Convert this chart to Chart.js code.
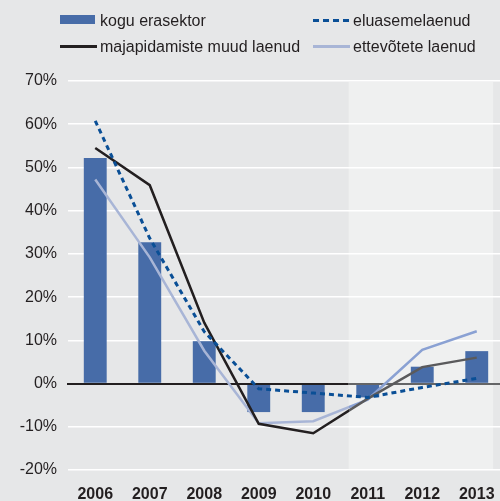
<!DOCTYPE html>
<html>
<head>
<meta charset="utf-8">
<script src="https://cdn.jsdelivr.net/npm/chart.js@4"></script>
<style>
    html, body { margin: 0; padding: 0; overflow: hidden; background: #e6e7e8; }
    #wrap { position: relative; width: 504px; height: 501px; }
    .lg { position: absolute; font: 16px "Liberation Sans", Arial, sans-serif; color: #231f20; line-height: 18px; white-space: nowrap; }
    .sw { position: absolute; }
</style>
</head>
<body>
<div id="wrap">
    <canvas id="growthChart"></canvas>
</div>
<script>
const years = ['2006', '2007', '2008', '2009', '2010', '2011', '2012', '2013'];
const seriesLabels = ['kogu erasektor', 'eluasemelaenud', 'majapidamiste muud laenud', 'ettevõtete laenud'];
const koguErasektor = [52.2, 32.7, 9.8, -6.6, -6.6, -3.2, 3.9, 7.5];
const eluasemelaenud = [60.8, 33.6, 12.0, -1.2, -2.2, -3.2, -0.9, 1.2];
const majapidamisteMuud = [54.5, 45.9, 14.1, -9.3, -11.5, -3.5, 3.8, 6.0];
const ettevoteteLaenud = [47.2, 29.2, 7.6, -9.2, -8.7, -3.7, 7.8, 12.1];
const yTicks = [-20, -10, 0, 10, 20, 30, 40, 50, 60, 70];
const forecastFrom = 5; // 2011 onwards shaded

const fontFamily = '"Liberation Sans", Arial, sans-serif';

function shadeBounds(chart) {
    const x = chart.scales.x;
    const step = x.getPixelForValue(1) - x.getPixelForValue(0);
    return {
        left: x.getPixelForValue(forecastFrom) - 0.35 * step,
        right: x.getPixelForValue(years.length - 1) + 0.3 * step
    };
}

function splitColor(before, after) {
    return function (context) {
        const chart = context.chart;
        const area = chart.chartArea;
        if (!area || !chart.scales.x) return before;
        const cut = shadeBounds(chart).left;
        const f = Math.min(Math.max((cut - area.left) / (area.right - area.left), 0), 1);
        const g = chart.ctx.createLinearGradient(area.left, 0, area.right, 0);
        g.addColorStop(0, before);
        g.addColorStop(f, before);
        g.addColorStop(f, after);
        g.addColorStop(1, after);
        return g;
    };
}

const shadePlugin = {
    id: 'shade',
    beforeDraw(chart) {
        const area = chart.chartArea;
        const b = shadeBounds(chart);
        const ctx = chart.ctx;
        ctx.save();
        ctx.fillStyle = '#eff0f0';
        ctx.fillRect(b.left, area.top + 1, b.right - b.left, area.bottom - area.top - 2);
        ctx.restore();
    },
    afterDatasetDraw(chart, args) {
        if (args.meta.type !== 'bar') return;
        const area = chart.chartArea;
        const y = Math.round(chart.scales.y.getPixelForValue(0));
        const cut = shadeBounds(chart).left;
        const ctx = chart.ctx;
        ctx.save();
        ctx.lineWidth = 2;
        ctx.strokeStyle = '#231f20';
        ctx.beginPath();
        ctx.moveTo(area.left - 1, y);
        ctx.lineTo(cut, y);
        ctx.stroke();
        ctx.strokeStyle = '#646567';
        ctx.beginPath();
        ctx.moveTo(cut, y);
        ctx.lineTo(area.right, y);
        ctx.stroke();
        ctx.restore();
    }
};

const ctx = document.getElementById('growthChart').getContext('2d');

let growthChart = new Chart(ctx, {
    type: 'bar',
    data: {
        labels: years,
        datasets: [
            {
                label: seriesLabels[0],
                data: koguErasektor,
                backgroundColor: '#476ca8',
                categoryPercentage: 1,
                barPercentage: 0.42,
                order: 10
            },
            {
                type: 'line',
                label: seriesLabels[3],
                data: ettevoteteLaenud,
                borderColor: splitColor('#a8b5d6', '#8aa1d3'),
                borderWidth: 2.5,
                pointRadius: 0,
                tension: 0,
                order: 3
            },
            {
                type: 'line',
                label: seriesLabels[2],
                data: majapidamisteMuud,
                borderColor: splitColor('#231f20', '#5a5a5c'),
                borderWidth: 2.5,
                pointRadius: 0,
                tension: 0,
                order: 2
            },
            {
                type: 'line',
                label: seriesLabels[1],
                data: eluasemelaenud,
                borderColor: '#0a4f96',
                borderWidth: 3,
                borderDash: [5, 4],
                pointRadius: 0,
                tension: 0,
                order: 1
            }
        ]
    },
    options: {
        responsive: true,
        maintainAspectRatio: false,
        animation: false,
        layout: { padding: { top: 81, left: 0, right: 0, bottom: 0 } },
        plugins: {
            legend: { display: false },
            tooltip: { enabled: false }
        },
        scales: {
            x: {
                grid: { display: false },
                border: { display: false },
                ticks: {
                    color: '#231f20',
                    padding: 7,
                    maxRotation: 0,
                    font: { family: fontFamily, size: 16, weight: 'bold' }
                },
                afterFit(scale) { scale.height = 31; }
            },
            y: {
                min: yTicks[0],
                max: yTicks[yTicks.length - 1],
                afterBuildTicks(scale) { scale.ticks = yTicks.map(v => ({ value: v })); },
                grid: {
                    drawTicks: false,
                    color: c => (c.tick && c.tick.value === 0) ? 'rgba(0,0,0,0)' : '#ffffff',
                    lineWidth: 1.5
                },
                border: { display: false },
                ticks: {
                    color: '#231f20',
                    padding: 11,
                    font: { family: fontFamily, size: 16 },
                    callback: v => v + '%'
                },
                afterFit(scale) { scale.width = 68; }
            }
        }
    },
    plugins: [shadePlugin]
});

// legend in two columns
function buildLegend() {
    const wrap = document.getElementById('wrap');
    const items = [
        { label: seriesLabels[0], left: 60, top: 12, sw: 'width:35px;height:9px;top:3px;left:0;background:#476ca8' },
        { label: seriesLabels[1], left: 313, top: 12, sw: 'width:37px;height:3px;top:7px;left:0;background:repeating-linear-gradient(to right,#0a4f96 0 6px,transparent 6px 10px)' },
        { label: seriesLabels[2], left: 60, top: 38, sw: 'width:37px;height:3px;top:7px;left:0;background:#231f20' },
        { label: seriesLabels[3], left: 313, top: 38, sw: 'width:37px;height:3px;top:7px;left:0;background:#a8b5d6' }
    ];
    items.forEach(it => {
        const div = document.createElement('div');
        div.className = 'lg';
        div.style.left = it.left + 'px';
        div.style.top = it.top + 'px';
        div.style.paddingLeft = '40px';
        const sw = document.createElement('span');
        sw.className = 'sw';
        sw.style.cssText += it.sw;
        div.appendChild(sw);
        div.appendChild(document.createTextNode(it.label));
        wrap.appendChild(div);
    });
}
buildLegend();
</script>
</body>
</html>
